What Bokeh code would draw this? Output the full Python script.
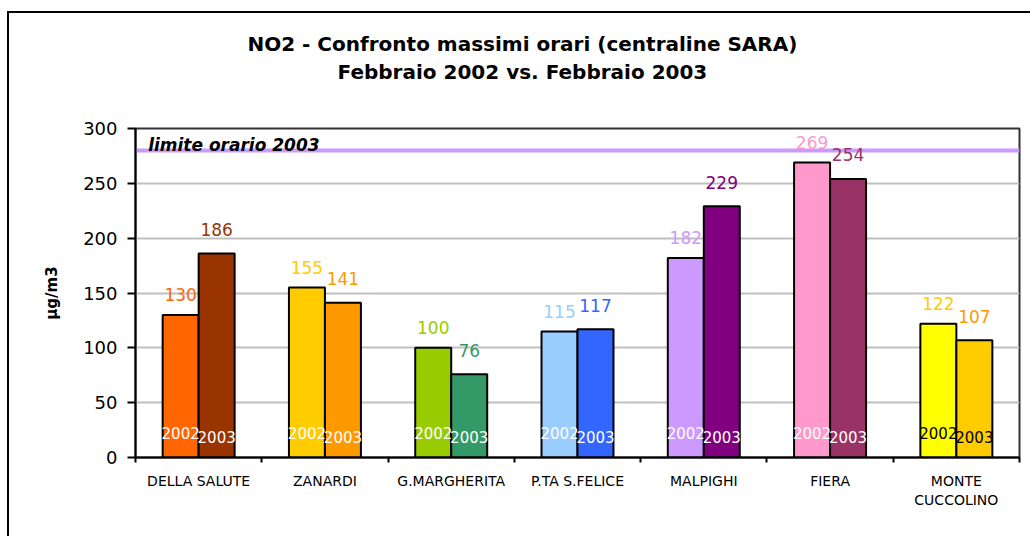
from bokeh.plotting import figure
from bokeh.models import (ColumnDataSource, Range1d, FixedTicker, Span, Label, LinearAxis)
from bokeh.transform import dodge
from bokeh.core.properties import value
from bokeh.embed import file_html
from bokeh.resources import INLINE

# ---- data ----
stations = ["DELLA SALUTE", "ZANARDI", "G.MARGHERITA", "P.TA S.FELICE",
            "MALPIGHI", "FIERA", "MONTE\nCUCCOLINO"]
max_2002 = [130, 155, 100, 115, 182, 269, 122]
max_2003 = [186, 141, 76, 117, 229, 254, 107]
limit_2003 = 280
y_ticks = [0, 50, 100, 150, 200, 250, 300]
title_lines = ["NO2 - Confronto massimi orari (centraline SARA)",
               "Febbraio 2002 vs. Febbraio 2003"]

# ---- styles ----
colors_2002 = ["#FF6600", "#FFCC00", "#99CC00", "#99CCFF", "#CC99FF", "#FF99CC", "#FFFF00"]
colors_2003 = ["#993300", "#FF9900", "#339966", "#3366FF", "#800080", "#993366", "#FFCC00"]
lab_2002 = ["#FF6600", "#FFCC00", "#99CC00", "#99CCFF", "#CC99FF", "#FF99CC", "#FFCC00"]
lab_2003 = ["#993300", "#FF9900", "#339966", "#3366FF", "#800080", "#993366", "#FF9900"]
inner_col = ["white"] * 6 + ["black"]
FONT = "DejaVu Sans"

n = len(stations)
src = ColumnDataSource(dict(
    x=[i + 0.5 for i in range(n)],
    v02=max_2002, v03=max_2003,
    s02=[str(v) for v in max_2002], s03=[str(v) for v in max_2003],
    c02=colors_2002, c03=colors_2003,
    l02=lab_2002, l03=lab_2003,
    ic=inner_col,
    t02=["2002"] * n, t03=["2003"] * n,
))

p = figure(width=1023, height=525, x_range=Range1d(0, n), y_range=Range1d(0, 300),
           output_backend="svg", toolbar_location=None,
           min_border_left=126, min_border_right=13, min_border_top=115, min_border_bottom=81)
# outer chart frame (left and top edges; right/bottom fall outside the window)
p.styles = {"margin-left": "7px", "margin-top": "11px",
            "border-left": "2px solid black", "border-top": "2px solid black"}
p.background_fill_color = "white"
p.border_fill_color = "white"
p.outline_line_color = "#333333"
p.outline_line_width = 2

off = 0.1425
bw = 0.285
x02 = dodge("x", -off, range=p.x_range)
x03 = dodge("x", off, range=p.x_range)

p.vbar(x=x02, top="v02", width=bw, fill_color="c02", line_color="black", line_width=2, source=src)
p.vbar(x=x03, top="v03", width=bw, fill_color="c03", line_color="black", line_width=2, source=src)

# value labels
p.text(x=x02, y="v02", text="s02", text_color="l02", text_align="center", text_baseline="middle",
       y_offset=-20, text_font=value(FONT), text_font_size="17px", source=src)
p.text(x=x03, y="v03", text="s03", text_color="l03", text_align="center", text_baseline="middle",
       y_offset=-24, text_font=value(FONT), text_font_size="17px", source=src)

# year labels inside bars
p.text(x=x02, y=0, text="t02", text_color="ic", text_align="center", text_baseline="middle",
       y_offset=-25, text_font=value(FONT), text_font_size="15px", source=src)
p.text(x=x03, y=0, text="t03", text_color="ic", text_align="center", text_baseline="middle",
       y_offset=-21, text_font=value(FONT), text_font_size="15px", source=src)

# limit line
span = Span(location=limit_2003, dimension="width", line_color="#CC99FF", line_width=4)
span.level = "underlay"
p.add_layout(span)
p.add_layout(Label(x=0.1, y=limit_2003 + 5, text="limite orario 2003", text_baseline="alphabetic",
                   text_font=FONT, text_font_size="17px", text_font_style="bold italic",
                   text_color="black"))

# two-line title, centred on the whole chart area (drawn in the top panel)
title_x = 3.064
title_axis = LinearAxis(ticker=FixedTicker(ticks=[title_x]),
                        major_label_overrides={title_x: "\n".join(title_lines)},
                        axis_line_color=None, major_tick_line_color=None,
                        minor_tick_line_color=None, major_tick_in=0, major_tick_out=0,
                        minor_tick_out=0, major_label_standoff=45,
                        major_label_text_font=FONT, major_label_text_font_size="20px",
                        major_label_text_font_style="bold", major_label_text_color="black",
                        major_label_text_line_height=1.16)
p.add_layout(title_axis, "above")

# grid
p.xgrid.visible = False
p.ygrid.ticker = FixedTicker(ticks=y_ticks)
p.ygrid.grid_line_color = "#C0C0C0"
p.ygrid.grid_line_width = 2

# x axis
xa = p.below[0]
xa.ticker = FixedTicker(ticks=[i + 0.5 for i in range(n)], minor_ticks=list(range(n + 1)))
xa.major_label_overrides = {i + 0.5: s for i, s in enumerate(stations)}
xa.major_tick_in = 0
xa.major_tick_out = 0
xa.minor_tick_in = 0
xa.minor_tick_out = 5
xa.minor_tick_line_color = "black"
xa.minor_tick_line_width = 2
xa.axis_line_color = "black"
xa.axis_line_width = 2
xa.major_label_standoff = 10
xa.major_label_text_font = FONT
xa.major_label_text_font_size = "14px"
xa.major_label_text_color = "black"

# y axis
ya = p.left[0]
ya.ticker = FixedTicker(ticks=y_ticks)
ya.minor_tick_line_color = None
ya.major_tick_in = 0
ya.major_tick_out = 8
ya.major_tick_line_color = "black"
ya.major_tick_line_width = 2
ya.axis_line_color = "black"
ya.axis_line_width = 2
ya.major_label_standoff = 10
ya.major_label_text_font = FONT
ya.major_label_text_font_size = "18px"
ya.major_label_text_color = "black"
ya.axis_label = "µg/m3"
ya.axis_label_text_font = FONT
ya.axis_label_text_font_size = "15px"
ya.axis_label_text_font_style = "bold"
ya.axis_label_text_color = "black"
ya.axis_label_standoff = 19

open("out.html", "w").write(file_html(p, INLINE))
